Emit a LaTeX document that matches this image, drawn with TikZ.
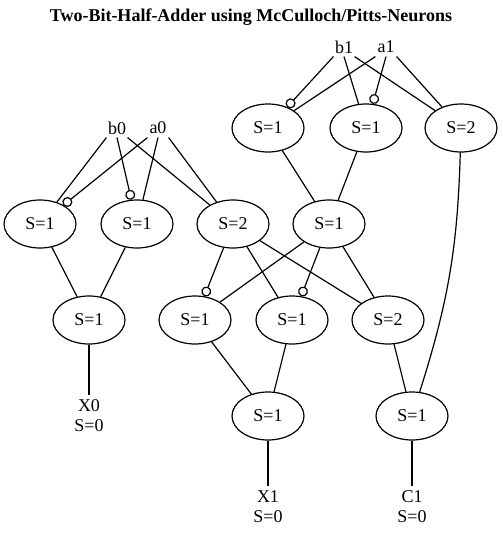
\documentclass[tikz,border=0pt]{standalone}
\usepackage{fontspec}
\setmainfont{Liberation Serif}
\usetikzlibrary{shapes.geometric, arrows.meta}
\begin{document}
\begin{tikzpicture}[x=1pt, y=-1pt, line width=1.2pt, font=\fontsize{18}{20}\selectfont,
    neuron/.style={draw, ellipse, minimum width=72pt, minimum height=48pt, inner sep=0pt},
    input/.style={inner sep=0pt, minimum width=20pt, minimum height=18pt},
    output/.style={align=center, inner sep=4pt},
    inh/.style={-{Circle[open, length=10pt, width=10pt]}}]
    \useasboundingbox (0,0) rectangle (503,533);
    \node[font=\fontsize{18}{20}\selectfont\bfseries] (title) at (251,17) {Two-Bit-Half-Adder using McCulloch/Pitts-Neurons};
    \node[input] (b0) at (117,128) {b0};
    \node[input] (a0) at (158,128) {a0};
    \node[input] (b1) at (344,47) {b1};
    \node[input] (a1) at (386,47) {a1};
    \node[neuron] (l1) at (40,224) {S=1};
    \node[neuron] (l2) at (137,224) {S=1};
    \node[neuron] (l3) at (233,224) {S=2};
    \node[neuron] (r1) at (268,128) {S=1};
    \node[neuron] (r2) at (366,128) {S=1};
    \node[neuron] (r3) at (461,128) {S=2};
    \node[neuron] (m) at (329,224) {S=1};
    \node[neuron] (lx) at (89,320) {S=1};
    \node[neuron] (p) at (195,320) {S=1};
    \node[neuron] (q) at (292,320) {S=1};
    \node[neuron] (c) at (388,320) {S=2};
    \node[neuron] (x1n) at (268,416) {S=1};
    \node[neuron] (c1n) at (412,416) {S=1};
    \node[output] (x0) at (89,416) {X0\\S=0};
    \node[output] (x1) at (268,507) {X1\\S=0};
    \node[output] (c1) at (412,507) {C1\\S=0};
    \path
    (b0.south west) edge (l1)
    (a0.south west) edge[inh] (l1)
    (b0.south) edge[inh] (l2)
    (a0.south) edge (l2)
    (b0.south east) edge (l3)
    (a0.south east) edge (l3)
    (b1.south west) edge[inh] (r1)
    (a1.south west) edge (r1)
    (b1.south) edge (r2)
    (a1.south) edge[inh] (r2)
    (b1.south east) edge (r3)
    (a1.south east) edge (r3)
    (l1) edge (lx)
    (l2) edge (lx)
    (r1) edge (m)
    (r2) edge (m)
    (l3) edge[inh] (p)
    (l3) edge (q)
    (l3) edge (c)
    (m) edge (p)
    (m) edge[inh] (q)
    (m) edge (c)
    (p) edge (x1n)
    (q) edge (x1n)
    (c) edge (c1n)
    (r3) edge[bend left=8] (c1n)
    (lx) edge (x0)
    (x1n) edge (x1)
    (c1n) edge (c1);
\end{tikzpicture}
\end{document}
